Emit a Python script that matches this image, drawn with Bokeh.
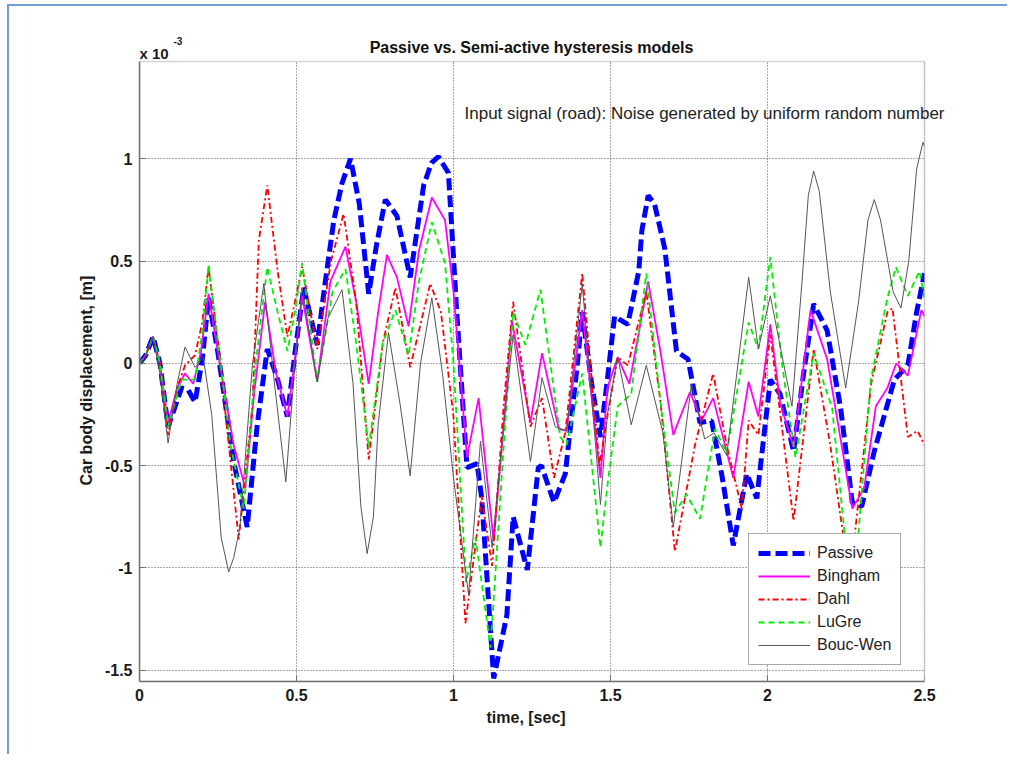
from bokeh.plotting import figure
from bokeh.models import (Range1d, Label, Legend, LegendItem, FixedTicker, Title, BoxAnnotation)
from bokeh.embed import file_html
from bokeh.resources import INLINE

# ---------------- data (displacement in units of 1e-3 m) ----------------
t_passive = [0, 0.02, 0.043, 0.065, 0.091, 0.134, 0.155, 0.177, 0.20, 0.22, 0.25, 0.30, 0.343, 0.375,
             0.407, 0.44, 0.471, 0.495, 0.523, 0.566, 0.59, 0.619, 0.645, 0.672, 0.70, 0.73, 0.755,
             0.783, 0.82, 0.862, 0.905, 0.93, 0.952, 0.984, 1.01, 1.043, 1.075, 1.09, 1.128, 1.17, 1.19,
             1.235, 1.27, 1.28, 1.32, 1.356, 1.394, 1.41, 1.44, 1.468, 1.49, 1.513, 1.555, 1.59,
             1.60, 1.62, 1.64, 1.673, 1.71, 1.747, 1.785, 1.822, 1.855, 1.891, 1.934, 1.966, 2.009,
             2.04, 2.083, 2.115, 2.147, 2.19, 2.233, 2.27, 2.30, 2.34, 2.404, 2.447, 2.475, 2.5]
y_passive = [0, 0.04, 0.13, 0.0, -0.31, -0.12, -0.13, -0.19, 0.02, 0.32, 0.05, -0.48, -0.80, -0.30,
             0.07, -0.08, -0.26, 0.05, 0.37, 0.09, 0.38, 0.70, 0.88, 1.00, 0.78, 0.34, 0.58,
             0.80, 0.72, 0.42, 0.87, 0.98, 1.01, 0.93, 0.26, -0.51, -0.49, -0.66, -1.54, -1.23, -0.75,
             -1.01, -0.51, -0.50, -0.68, -0.54, -0.01, 0.25, -0.10, -0.36, -0.08, 0.23, 0.19, 0.45,
             0.65, 0.82, 0.78, 0.56, 0.06, 0.02, -0.29, -0.28, -0.55, -0.89, -0.54, -0.66, -0.08,
             -0.15, -0.43, -0.05, 0.29, 0.16, -0.22, -0.68, -0.70, -0.43, -0.08, -0.01, 0.25, 0.44]

t_bingham = [0, 0.02, 0.043, 0.065, 0.091, 0.12, 0.145, 0.171, 0.195, 0.22, 0.25, 0.30, 0.337, 0.365,
             0.40, 0.435, 0.471, 0.495, 0.518, 0.566, 0.608, 0.656, 0.69, 0.73, 0.76, 0.788, 0.82,
             0.857, 0.89, 0.931, 0.973, 1.0, 1.043, 1.08, 1.128, 1.16, 1.186, 1.245, 1.282, 1.335,
             1.36, 1.41, 1.468, 1.49, 1.523, 1.56, 1.62, 1.66, 1.70, 1.753, 1.79, 1.827, 1.891,
             1.94, 1.971, 2.009, 2.04, 2.083, 2.137, 2.19, 2.27, 2.308, 2.345, 2.382, 2.41, 2.447,
             2.49, 2.5]
y_bingham = [0, 0.04, 0.13, 0.0, -0.29, -0.12, -0.05, -0.10, 0.05, 0.34, 0.05, -0.40, -0.61, -0.15,
             0.30, -0.05, -0.26, 0.02, 0.33, -0.09, 0.40, 0.57, 0.30, -0.10, 0.25, 0.53, 0.42,
             0.18, 0.55, 0.81, 0.70, 0.35, -0.46, -0.17, -0.87, -0.30, 0.21, -0.29, 0.05, -0.32,
             -0.33, 0.26, -0.56, -0.12, 0.03, -0.10, 0.40, 0.05, -0.35, -0.14, -0.28, -0.17, -0.56,
             -0.09, -0.26, 0.19, -0.19, -0.41, 0.26, 0.02, -0.71, -0.61, -0.21, -0.12, 0.0, -0.06,
             0.26, 0.23]

t_dahl = [0, 0.02, 0.043, 0.065, 0.091, 0.12, 0.145, 0.177, 0.20, 0.22, 0.25, 0.316, 0.36, 0.38,
          0.407, 0.44, 0.471, 0.495, 0.518, 0.566, 0.61, 0.65, 0.69, 0.73, 0.775, 0.815, 0.862,
          0.926, 0.96, 1.0, 1.038, 1.09, 1.123, 1.16, 1.19, 1.245, 1.282, 1.32, 1.356, 1.41, 1.465,
          1.49, 1.523, 1.555, 1.614, 1.66, 1.705, 1.769, 1.827, 1.87, 1.918, 1.94, 1.971, 2.009,
          2.045, 2.083, 2.147, 2.20, 2.245, 2.275, 2.33, 2.382, 2.398, 2.447, 2.478, 2.5]
y_dahl = [0, 0.04, 0.13, 0.0, -0.35, -0.12, -0.01, 0.04, 0.20, 0.47, 0.10, -0.86, -0.20, 0.60,
          0.87, 0.45, 0.13, 0.30, 0.47, 0.07, 0.50, 0.73, 0.30, -0.47, 0.10, 0.37, -0.02,
          0.39, 0.25, -0.26, -1.27, -0.65, -0.99, -0.20, 0.30, -0.31, -0.17, -0.56, -0.34, 0.44, -0.50,
          -0.26, 0.03, -0.01, 0.35, -0.20, -0.92, -0.40, -0.05, -0.40, -0.71, -0.28, -0.35, 0.14,
          -0.30, -0.77, 0.07, -0.40, -0.88, -0.88, -0.10, 0.25, 0.27, -0.36, -0.33, -0.40]

t_lugre = [0, 0.02, 0.043, 0.065, 0.091, 0.134, 0.177, 0.20, 0.22, 0.25, 0.29, 0.332, 0.37, 0.407,
           0.44, 0.471, 0.495, 0.518, 0.566, 0.615, 0.656, 0.69, 0.73, 0.775, 0.815, 0.857, 0.89,
           0.931, 0.973, 1.0, 1.04, 1.07, 1.118, 1.16, 1.19, 1.229, 1.277, 1.34, 1.36, 1.41, 1.468,
           1.49, 1.523, 1.566, 1.614, 1.66, 1.705, 1.742, 1.785, 1.833, 1.87, 1.94, 1.971, 2.009,
           2.046, 2.089, 2.147, 2.206, 2.25, 2.285, 2.329, 2.382, 2.409, 2.447, 2.484, 2.5]
y_lugre = [0, 0.04, 0.13, 0.0, -0.31, -0.08, -0.08, 0.15, 0.48, 0.10, -0.40, -0.71, 0.0, 0.47,
           0.25, 0.06, 0.25, 0.49, -0.09, 0.35, 0.46, 0.10, -0.41, 0.10, 0.26, 0.04, 0.40,
           0.69, 0.49, 0.0, -1.07, -0.85, -1.39, -0.40, 0.25, 0.09, 0.36, -0.36, -0.40, -0.05, -0.90,
           -0.60, -0.21, -0.15, 0.44, -0.20, -0.73, -0.64, -0.76, -0.32, -0.44, 0.20, 0.07, 0.52,
           0.0, -0.46, 0.05, -0.22, -0.90, -0.92, -0.08, 0.32, 0.47, 0.33, 0.45, 0.32]

t_boucwen = [0, 0.02, 0.043, 0.065, 0.091, 0.12, 0.145, 0.177, 0.203, 0.23, 0.26, 0.284, 0.30, 0.32,
             0.36, 0.396, 0.43, 0.466, 0.495, 0.518, 0.566, 0.60, 0.645, 0.68, 0.705, 0.725, 0.745,
             0.76, 0.793, 0.83, 0.862, 0.895, 0.931, 0.965, 1.0, 1.048, 1.086, 1.123, 1.16, 1.19,
             1.245, 1.282, 1.324, 1.36, 1.41, 1.468, 1.49, 1.523, 1.566, 1.614, 1.667, 1.70, 1.758,
             1.80, 1.83, 1.87, 1.94, 1.971, 2.009, 2.078, 2.11, 2.13, 2.147, 2.165, 2.20, 2.249,
             2.29, 2.32, 2.34, 2.36, 2.40, 2.425, 2.45, 2.475, 2.495, 2.5]
y_boucwen = [0, 0.04, 0.13, -0.05, -0.39, -0.10, 0.08, -0.02, 0.03, -0.25, -0.85, -1.02, -0.95, -0.80,
             0.0, 0.39, -0.10, -0.58, 0.0, 0.37, -0.09, 0.22, 0.36, -0.10, -0.70, -0.93, -0.75,
             -0.30, 0.15, -0.20, -0.55, 0.0, 0.32, -0.05, -0.56, -1.13, -0.38, -0.90, -0.30, 0.14,
             -0.48, -0.07, -0.31, -0.33, 0.39, -0.69, -0.25, 0.03, -0.30, -0.01, -0.34, -0.80, -0.10,
             -0.37, -0.34, -0.45, 0.42, 0.07, 0.33, -0.21, 0.40, 0.82, 0.94, 0.84, 0.35, -0.12,
             0.30, 0.70, 0.80, 0.70, 0.35, 0.27, 0.50, 0.95, 1.08, 1.06]

series_names = ["Passive", "Bingham", "Dahl", "LuGre", "Bouc-Wen"]
x_ticks = [0, 0.5, 1, 1.5, 2, 2.5]
x_tick_labels = ["0", "0.5", "1", "1.5", "2", "2.5"]
y_ticks = [-1.5, -1, -0.5, 0, 0.5, 1]
y_tick_labels = ["-1.5", "-1", "-0.5", "0", "0.5", "1"]

title_text = "Passive vs. Semi-active hysteresis models"
note_text = "Input signal (road): Noise generated by uniform random number"
x_label = "time, [sec]"
y_label = "Car body displacement, [m]"
scale_base = "x 10"
scale_exp = "-3"

# ---------------- layout constants ----------------
FONT = "Liberation Sans"
X_LO, X_HI = 0.0, 2.5               # axes box limits (x)
Y_LO, Y_HI = -1.555, 1.475          # axes box limits (y)
BOX_W_PX, BOX_H_PX = 785.0, 620.0   # box size in px
EXTRA_TOP_PX = 36                   # frame extends above the box for the title texts
EXTRA_RIGHT_PX = 36                 # and to the right for the long note
Y_FRAME_TOP = Y_HI + EXTRA_TOP_PX * (Y_HI - Y_LO) / BOX_H_PX
X_FRAME_RIGHT = X_HI + EXTRA_RIGHT_PX * (X_HI - X_LO) / BOX_W_PX
BOX_COLOR = "#707070"

W, H = 1000, 750
p = figure(width=W, height=H, output_backend="svg", toolbar_location=None,
           x_range=Range1d(X_LO, X_FRAME_RIGHT), y_range=Range1d(Y_LO, Y_FRAME_TOP),
           min_border_left=130, min_border_top=19, min_border_right=49, min_border_bottom=75,
           styles={"position": "absolute", "left": "7px", "top": "4px",
                   "border-left": "2px solid #6f9fd8", "border-top": "2px solid #6f9fd8"})
p.background_fill_color = "white"
p.border_fill_color = "white"
p.outline_line_color = None

xt = FixedTicker(ticks=x_ticks, minor_ticks=[])
yt = FixedTicker(ticks=y_ticks, minor_ticks=[])

for ax, tk, labs in ((p.xaxis[0], xt, x_tick_labels), (p.yaxis[0], yt, y_tick_labels)):
    ax.ticker = tk
    ov = {}
    for v, s in zip(tk.ticks, labs):
        ov[float(v)] = s
        if float(v).is_integer():
            ov[int(v)] = s
    ax.major_label_overrides = ov
    ax.major_tick_in = 6
    ax.major_tick_out = 0
    ax.minor_tick_line_color = None
    ax.axis_line_color = BOX_COLOR
    ax.axis_line_width = 1.5
    ax.major_tick_line_color = BOX_COLOR
    ax.major_label_text_font = FONT
    ax.major_label_text_font_style = "bold"
    ax.major_label_text_font_size = "16px"
    ax.major_label_text_color = "#1a1a1a"

p.xaxis[0].bounds = (X_LO, X_HI)
p.yaxis[0].bounds = (Y_LO, Y_HI)
p.xaxis[0].major_label_standoff = 7
p.yaxis[0].major_label_standoff = 7

# axis titles placed as side titles so they centre on the box, not on the frame
p.add_layout(Title(text=y_label, align="left", offset=196, standoff=13,
                   text_font=FONT, text_font_style="bold", text_font_size="16px",
                   text_color="#1a1a1a"), "left")
p.add_layout(Title(text=x_label, align="left", offset=347, standoff=7,
                   text_font=FONT, text_font_style="bold", text_font_size="16px",
                   text_color="#1a1a1a"), "below")

p.xgrid.ticker = xt
p.ygrid.ticker = yt
for g in (p.xgrid[0], p.ygrid[0]):
    g.grid_line_color = "#505050"
    g.grid_line_dash = "1 2"
    g.grid_line_width = 1

# ---------------- lines ----------------
r_passive = p.line(t_passive, y_passive, line_color="#0000ff", line_width=5, line_dash="12 5")
r_bingham = p.line(t_bingham, y_bingham, line_color="#ff00ff", line_width=1.8)
r_dahl = p.line(t_dahl, y_dahl, line_color="#ff0000", line_width=1.8, line_dash="6 3 2 3")
r_lugre = p.line(t_lugre, y_lugre, line_color="#00ee00", line_width=1.8, line_dash="6 4")
r_boucwen = p.line(t_boucwen, y_boucwen, line_color="#555555", line_width=1)

legend = Legend(items=[LegendItem(label=n, renderers=[r]) for n, r in
                       zip(series_names, [r_passive, r_bingham, r_dahl, r_lugre, r_boucwen])],
                location=(609, 16), orientation="vertical",
                border_line_color="#555555", border_line_width=1,
                background_fill_color="white", background_fill_alpha=1.0,
                padding=9, spacing=3, margin=0,
                glyph_width=52, glyph_height=20, label_height=20, label_standoff=7,
                label_text_font=FONT, label_text_font_size="16px", label_text_color="#222222")
p.add_layout(legend)

# white margins outside the box inside the frame, then the box outline itself
p.add_layout(BoxAnnotation(left=X_HI, fill_color="white", fill_alpha=1.0, line_color=None))
p.add_layout(BoxAnnotation(bottom=Y_HI, fill_color="white", fill_alpha=1.0, line_color=None))
p.add_layout(BoxAnnotation(left=X_LO, right=X_HI, bottom=Y_LO, top=Y_HI,
                           fill_alpha=0.0, line_color=BOX_COLOR, line_width=1.5))

# ---------------- texts (inside the frame, above the box) ----------------
p.add_layout(Label(x=0, y=628, x_units="screen", y_units="screen", text=scale_base,
                   text_font=FONT, text_font_size="15px", text_font_style="bold",
                   text_color="#1a1a1a", text_baseline="alphabetic", text_align="left"))
p.add_layout(Label(x=34, y=641, x_units="screen", y_units="screen", text=scale_exp,
                   text_font=FONT, text_font_size="10px", text_font_style="bold",
                   text_color="#1a1a1a", text_baseline="alphabetic", text_align="left"))
p.add_layout(Label(x=392, y=634, x_units="screen", y_units="screen", text=title_text,
                   text_font=FONT, text_font_size="16px", text_font_style="bold",
                   text_color="#111111", text_baseline="alphabetic", text_align="center"))
p.add_layout(Label(x=325, y=568, x_units="screen", y_units="screen", text=note_text,
                   text_font=FONT, text_font_size="17px",
                   text_color="#222222", text_baseline="alphabetic", text_align="left"))

open("out.html", "w").write(file_html(p, INLINE))
